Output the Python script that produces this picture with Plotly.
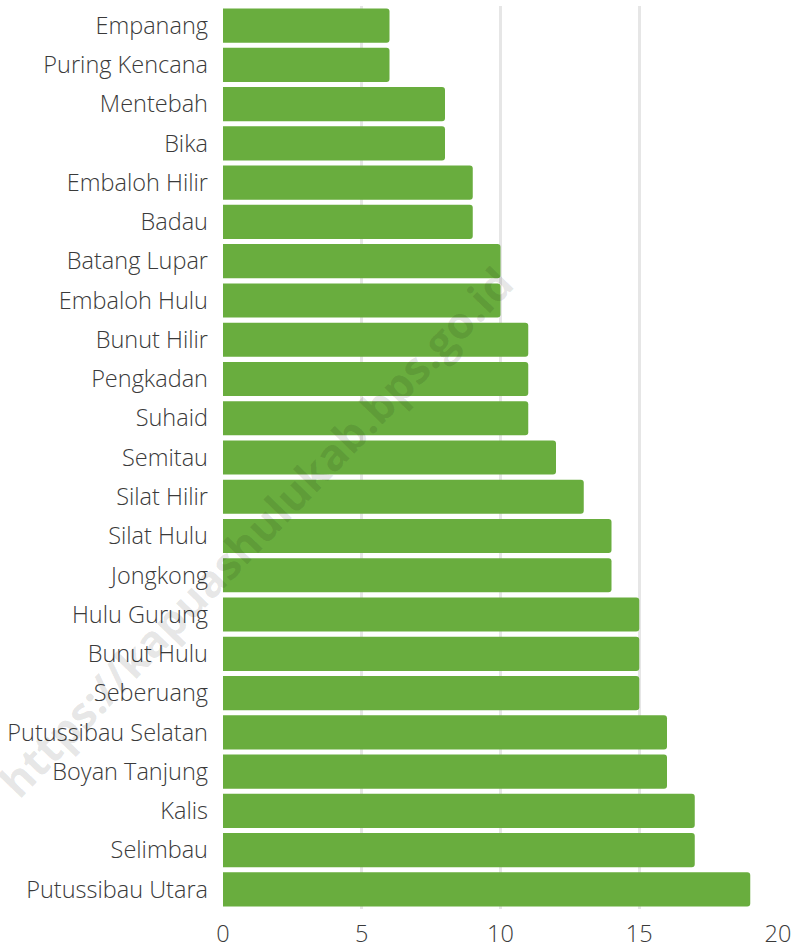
import plotly.graph_objects as go

categories = ["Empanang", "Puring Kencana", "Mentebah", "Bika", "Embaloh Hilir", "Badau",
              "Batang Lupar", "Embaloh Hulu", "Bunut Hilir", "Pengkadan", "Suhaid", "Semitau",
              "Silat Hilir", "Silat Hulu", "Jongkong", "Hulu Gurung", "Bunut Hulu", "Seberuang",
              "Putussibau Selatan", "Boyan Tanjung", "Kalis", "Selimbau", "Putussibau Utara"]
values = [6, 6, 8, 8, 9, 9, 10, 10, 11, 11, 11, 12, 13, 14, 14, 15, 15, 15, 16, 16, 17, 17, 19]
x_ticks = [0, 5, 10, 15, 20]

L, R, T, B = 223, 16, 6, 40
W, H = 794, 949

fig = go.Figure(go.Bar(
    x=values, y=categories, orientation="h",
    marker=dict(color="#69ad3e", line=dict(width=0), cornerradius=3),
))

pw, ph = W - L - R, H - T - B
wx, wy = 255, 532

fig.update_layout(
    width=W, height=H,
    margin=dict(l=L, r=R, t=T, b=B, autoexpand=False),
    plot_bgcolor="white", paper_bgcolor="white",
    bargap=0.13,
    showlegend=False,
    font=dict(family="Open Sans", size=23.5, color="#3a3a3a", weight=300),
    xaxis=dict(range=[0, 20], tickvals=x_ticks, showgrid=True, gridcolor="#e6e6e6",
               gridwidth=3, zeroline=False, showline=False, ticks="", ticklabelstandoff=8,
               automargin=False),
    yaxis=dict(autorange="reversed", showgrid=False, zeroline=False, showline=False,
               ticks="", ticklabelstandoff=14, automargin=False),
    annotations=[dict(text="<b>https://kapuashulukab.bps.go.id</b>",
                      x=(wx - L) / pw, y=1 - (wy - T) / ph,
                      xanchor="center", yanchor="middle",
                      xref="paper", yref="paper", showarrow=False, textangle=-46,
                      font=dict(family="Open Sans", size=44, color="rgba(0,0,0,0.1)"))],
)

fig.write_html("out.html", config={"displayModeBar": False},
               post_script="document.body.style.margin='0';document.body.style.padding='0';")
